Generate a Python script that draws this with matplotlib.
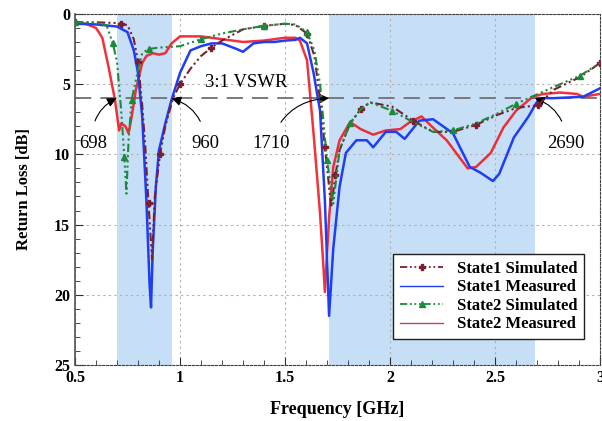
import numpy as np
import matplotlib
matplotlib.use('Agg')
from matplotlib import pyplot as plt
from matplotlib.ticker import MultipleLocator

# (GHz, dB)
f_s1sim = [0.5, 0.6, 0.7, 0.72, 0.75, 0.78, 0.8, 0.82, 0.835, 0.85, 0.867, 0.88, 0.905, 0.93, 0.967, 1.0,
           1.05, 1.1, 1.15, 1.2, 1.3, 1.4, 1.5, 1.55, 1.605, 1.64, 1.667, 1.69, 1.705, 1.72, 1.74, 1.76,
           1.81, 1.86, 1.905, 2.01, 2.11, 2.205, 2.3, 2.41, 2.51, 2.6, 2.705, 2.78, 2.905, 3.0]
rl_s1sim = [0.6, 0.6, 0.65, 0.7, 0.8, 1.8, 3.4, 6.5, 9.5, 13.5, 17.5, 13.0, 10.0, 8.0, 6.0, 5.0,
            3.9, 3.0, 2.4, 1.9, 1.1, 0.85, 0.7, 0.8, 1.4, 3.0, 6.1, 9.5, 11.6, 13.8, 11.5, 9.7,
            7.8, 6.8, 6.3, 6.6, 7.6, 8.4, 8.4, 7.9, 7.2, 6.7, 6.5, 5.4, 4.5, 3.5]

f_s1meas = [0.5, 0.6, 0.7, 0.75, 0.78, 0.8, 0.82, 0.84, 0.855, 0.862, 0.87, 0.885, 0.9, 0.93, 0.96, 1.0,
            1.05, 1.1, 1.15, 1.2, 1.27, 1.3, 1.35, 1.4, 1.45, 1.5, 1.55, 1.571, 1.605, 1.636, 1.667, 1.69,
            1.71, 1.73, 1.76, 1.79, 1.84, 1.89, 1.92, 1.98, 2.03, 2.07, 2.14, 2.205, 2.3, 2.38, 2.43,
            2.49, 2.52, 2.59, 2.66, 2.71, 2.78, 2.92, 3.0]
rl_s1meas = [0.7, 0.75, 0.9, 1.3, 2.6, 4.2, 7.3, 13.3, 19.2, 20.9, 16.9, 12.3, 9.7, 7.8, 6.1, 4.2,
             2.6, 2.3, 2.1, 2.1, 2.5, 2.7, 2.1, 2.0, 2.0, 1.9, 1.85, 1.7, 2.1, 4.2, 6.9, 13.3,
             21.5, 16.7, 12.3, 9.9, 9.0, 9.0, 9.5, 8.4, 8.4, 8.9, 7.6, 7.5, 8.5, 10.9, 11.3,
             11.9, 11.4, 8.8, 7.3, 6.0, 6.0, 5.9, 5.3]

f_s2sim = [0.5, 0.6, 0.65, 0.68, 0.7, 0.72, 0.735, 0.745, 0.755, 0.77, 0.8, 0.82, 0.85, 0.9, 1.0,
           1.1, 1.2, 1.3, 1.4, 1.5, 1.55, 1.605, 1.64, 1.667, 1.70, 1.73, 1.76, 1.81, 1.86, 1.905,
           2.01, 2.11, 2.205, 2.3, 2.41, 2.51, 2.6, 2.69, 2.78, 2.905, 3.0]
rl_s2sim = [0.6, 0.65, 0.8, 2.1, 3.4, 6.9, 10.2, 12.8, 9.0, 6.1, 4.0, 2.8, 2.5, 2.4, 2.3,
            1.8, 1.4, 1.1, 0.85, 0.7, 0.75, 1.3, 2.6, 5.0, 10.4, 13.5, 9.7, 7.8, 6.8, 6.3,
            6.9, 7.7, 8.4, 8.3, 7.8, 7.1, 6.4, 5.8, 5.2, 4.4, 3.5]

f_s2meas = [0.5, 0.55, 0.6, 0.63, 0.66, 0.69, 0.71, 0.72, 0.74, 0.755, 0.77, 0.79, 0.82, 0.84, 0.87,
            0.9, 0.93, 0.96, 1.0, 1.1, 1.2, 1.3, 1.4, 1.5, 1.55, 1.571, 1.605, 1.636, 1.667, 1.683,
            1.69, 1.71, 1.73, 1.76, 1.81, 1.86, 1.92, 1.98, 2.05, 2.095, 2.15, 2.205, 2.27, 2.33,
            2.37, 2.41, 2.48, 2.54, 2.6, 2.68, 2.73, 2.81, 2.89, 2.92, 3.0]
rl_s2meas = [0.6, 0.7, 1.0, 1.7, 3.8, 6.1, 8.3, 7.8, 8.0, 8.5, 7.3, 5.4, 3.5, 3.0, 2.8,
             2.9, 2.8, 2.1, 1.6, 1.6, 1.8, 2.0, 1.9, 1.7, 1.7, 1.9, 3.3, 8.5, 14.2, 18.0,
             19.8, 14.5, 10.9, 9.0, 7.7, 8.2, 8.6, 8.3, 8.2, 7.7, 7.3, 8.1, 9.0, 10.2,
             11.0, 10.9, 9.9, 8.1, 6.9, 5.9, 5.7, 5.6, 5.7, 5.9, 5.7]

bands = [(0.698, 0.96), (1.71, 2.69)]
vswr_level = 6
band_labels = ['698', '960', '1710', '2690']

plt.rcParams['font.family'] = ['Liberation Serif', 'DejaVu Serif']

fig = plt.figure(figsize=(6.02, 4.21), dpi=100)
ax = fig.add_axes([0.1246, 0.133, 0.872, 0.834])

for lo, hi in bands:
    ax.axvspan(lo, hi, color='#c6dff7', lw=0, zorder=0)

ax.grid(True, which='major', color='#b0b0b0', ls=(0, (2, 3)), lw=0.8, zorder=0.5)
ax.set_axisbelow(True)

ax.axhline(vswr_level, color='#707070', lw=1.3, dashes=(9, 5), zorder=1)

ax.plot(f_s2meas, rl_s2meas, color='#f01c24', lw=1.8, alpha=0.9, zorder=2, label='_nolegend_')
ax.plot(f_s1meas, rl_s1meas, color='#1f3df5', lw=1.8, zorder=3, label='_nolegend_')
l1, = ax.plot(f_s1sim, rl_s1sim, color='#7a1f30', lw=1.5, dashes=(4, 1.5, 1, 1.5, 1, 1.5),
              marker='P', ms=4, markevery=3, zorder=4)
l3, = ax.plot(f_s2sim, rl_s2sim, color='#1b8a3a', lw=1.5, dashes=(4, 1.5, 1, 1.5, 1, 1.5, 1, 1.5),
              marker='^', ms=4, markevery=3, zorder=4)

# legend proxies (red legend line is thinner/pinker than the curve)
h1, = ax.plot([], [], color='#7a1f30', lw=1.3, dashes=(4, 1.5, 1, 1.5, 1, 1.5), marker='P', ms=4)
h2, = ax.plot([], [], color='#1f3df5', lw=1.0)
h3, = ax.plot([], [], color='#1b8a3a', lw=1.3, dashes=(4, 1.5, 1, 1.5, 1, 1.5, 1, 1.5), marker='^', ms=4)
h4, = ax.plot([], [], color='#c8405a', lw=1.0)
leg = ax.legend([h1, h2, h3, h4],
                ['State1 Simulated', 'State1 Measured', 'State2 Simulated', 'State2 Measured'],
                loc='lower right', bbox_to_anchor=(0.985, 0.05), fancybox=False, framealpha=1,
                edgecolor='#202020', prop={'weight': 'bold', 'size': 12}, handlelength=2.6,
                labelspacing=0.15, borderpad=0.4)
leg.get_frame().set_linewidth(1.0)

ax.text(1.314, 4.9, '3:1 VSWR', fontsize=13.5, ha='center', va='center', zorder=5)

arrow = dict(arrowstyle='-|>', color='black', lw=0.8, mutation_scale=14)
ax.annotate(band_labels[0], xy=(0.698, vswr_level), xytext=(0.586, 9.2), fontsize=13.5,
            ha='center', va='center',
            arrowprops=dict(arrow, connectionstyle='arc3,rad=-0.35', shrinkA=8, shrinkB=0))
ax.annotate(band_labels[1], xy=(0.96, vswr_level), xytext=(1.12, 9.2), fontsize=13.5,
            ha='center', va='center',
            arrowprops=dict(arrow, connectionstyle='arc3,rad=0.35', shrinkA=8, shrinkB=0))
ax.annotate(band_labels[2], xy=(1.71, vswr_level), xytext=(1.433, 9.2), fontsize=13.5,
            ha='center', va='center',
            arrowprops=dict(arrow, connectionstyle='arc3,rad=-0.35', shrinkA=8, shrinkB=0))
ax.annotate(band_labels[3], xy=(2.69, vswr_level), xytext=(2.838, 9.2), fontsize=13.5,
            ha='center', va='center',
            arrowprops=dict(arrow, connectionstyle='arc3,rad=0.35', shrinkA=8, shrinkB=0))

ax.set_xlim(0.5, 3.0)
ax.set_ylim(25, 0)
ax.xaxis.set_major_locator(MultipleLocator(0.5))
ax.xaxis.set_minor_locator(MultipleLocator(0.1))
ax.yaxis.set_major_locator(MultipleLocator(5))
ax.yaxis.set_minor_locator(MultipleLocator(1))
ax.set_xticks([0.5, 1, 1.5, 2, 2.5, 3])
ax.set_xticklabels(['0.5', '1', '1.5', '2', '2.5', '3'])
ax.tick_params(which='both', direction='in', labelsize=11.5, colors='#303030', labelcolor='black')
ax.tick_params(which='major', length=6)
ax.tick_params(which='minor', length=3.5)
for lab in ax.get_xticklabels() + ax.get_yticklabels():
    lab.set_fontweight('bold')

for side in ['top', 'right', 'bottom']:
    ax.spines[side].set_linestyle((0, (2, 1.5)))
    ax.spines[side].set_color('#404040')
ax.spines['left'].set_color('#505050')
ax.spines['left'].set_linewidth(1.2)

ax.set_xlabel('Frequency [GHz]', fontsize=13, fontweight='bold', labelpad=11)
ax.set_ylabel('Return Loss [dB]', fontsize=12, fontweight='bold', labelpad=16)

fig.savefig('out.png', dpi=100)
